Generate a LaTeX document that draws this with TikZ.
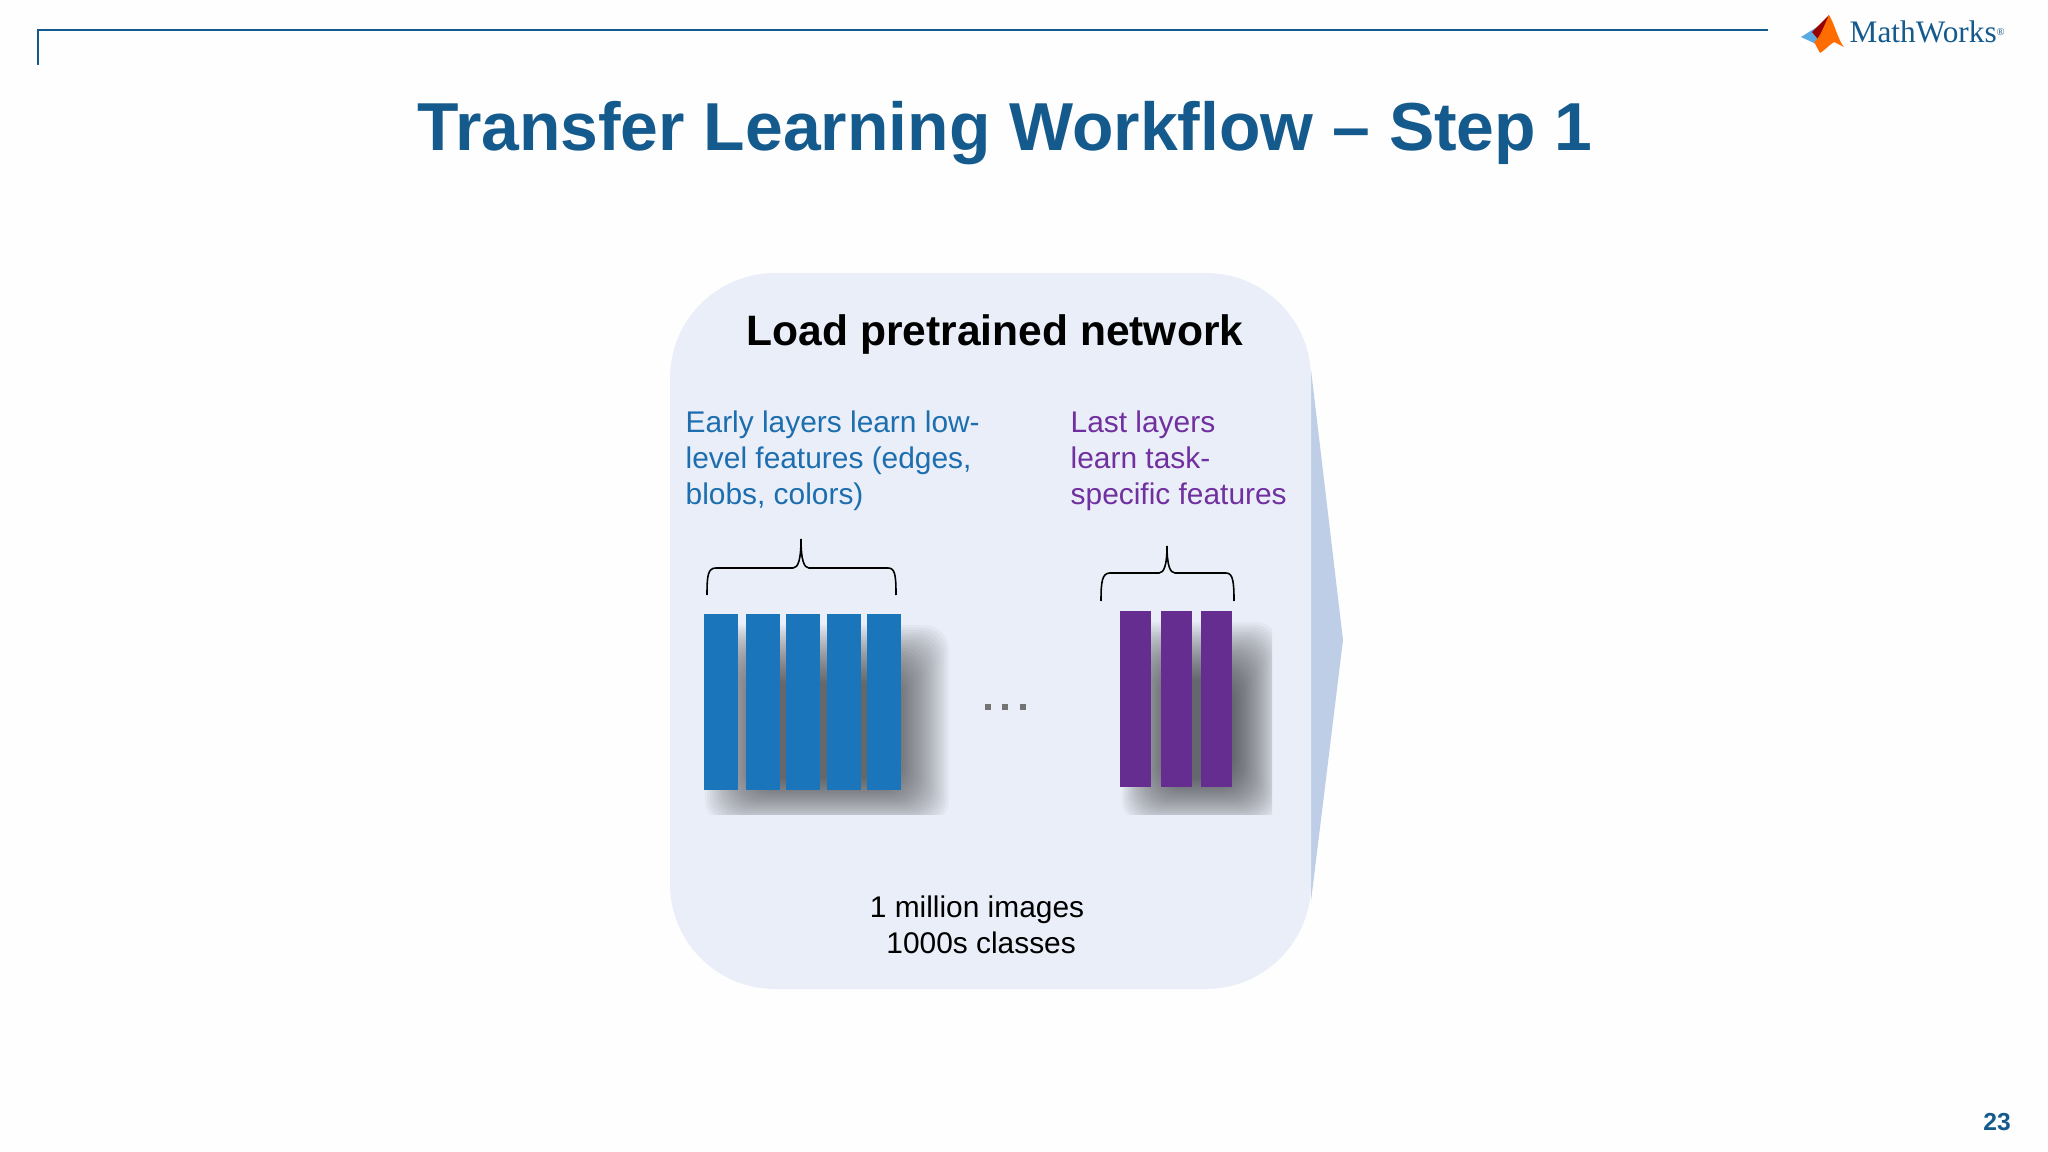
\documentclass[tikz,border=0pt]{standalone}
\usepackage{fontspec}
\setmainfont{Liberation Sans}
\newfontfamily\logofont{Liberation Serif}
\usepackage{xcolor}
\definecolor{mwblue}{RGB}{21,90,140}
\definecolor{panelblue}{RGB}{234,238,248}
\definecolor{arrowblue}{RGB}{190,206,230}
\definecolor{layerblue}{RGB}{27,117,187}
\definecolor{layerpurple}{RGB}{102,45,145}
\definecolor{textblue}{RGB}{28,110,175}
\definecolor{textpurple}{RGB}{112,48,160}
\definecolor{pagewhite}{RGB}{254,254,254}
\definecolor{logosky}{RGB}{90,170,225}
\usetikzlibrary{positioning}

\begin{document}
\begin{tikzpicture}[
    x=0.01cm, y=-0.01cm,
    slidetitle/.style={font=\bfseries\fontsize{19.3}{23}\selectfont, text=mwblue, inner sep=0pt},
    paneltitle/.style={font=\bfseries\fontsize{12.1}{14}\selectfont, text=black, inner sep=0pt},
    note/.style={font=\fontsize{8.5}{10.25}\selectfont, align=left, anchor=north west, inner sep=0pt},
    bluebar/.style={rectangle, fill=layerblue, minimum width=0.34cm, minimum height=1.76cm, inner sep=0pt},
    purplebar/.style={rectangle, fill=layerpurple, minimum width=0.31cm, minimum height=1.75cm, inner sep=0pt},
    dotmark/.style={rectangle, fill=black!55, minimum size=0.055cm, inner sep=0pt},
    brace/.style={draw=black, line width=0.45pt},
    softshadow/.style={black, opacity=0.03, rounded corners=0.25cm}
]
    \useasboundingbox (0,0) rectangle (2048,1152);
    \fill[pagewhite] (0,0) rectangle (2048,1152);

    % header rule
    \draw[mwblue, line width=0.5pt] (38,65) -- (38,30) -- (1768,30);
    \node[slidetitle] (title) at (1005,133) {Transfer Learning Workflow -- Step 1};
    \node[font=\bfseries\fontsize{7}{8}\selectfont, text=mwblue, inner sep=0pt] (pagenum) at (1997,1122) {23};

    % logo
    \fill[logosky] (1801,37) -- (1825,22) -- (1816,44) -- cycle;
    \fill[red!60!black] (1812,32) -- (1829,15) -- (1822,44) -- cycle;
    \fill[orange!85!red] (1829,15) .. controls (1835,25) and (1838,40) .. (1844,47)
        -- (1834,42) .. controls (1828,46) and (1825,50) .. (1820,53)
        -- (1814,42) .. controls (1820,38) and (1824,26) .. (1829,15);
    \node[font=\logofont\fontsize{8.9}{11}\selectfont, text=mwblue, inner sep=0pt, anchor=base west] (logotext) at (1849,43) {MathWorks\raisebox{2pt}{\fontsize{3}{3}\selectfont ®}};

    % panel
    \fill[arrowblue] (1311,370) -- (1343,640) -- (1311,901) -- cycle;
    \fill[panelblue, rounded corners=1.05cm] (670,273) rectangle (1311,989);

    \node[paneltitle] (load) at (995,335) {Load pretrained network};
    \node[note, text=textblue] (early) at (685,410) {Early layers learn low-\\level features (edges,\\blobs, colors)};
    \node[note, text=textpurple] (last) at (1070,410) {Last layers\\learn task-\\specific features};
    \node[note, align=center, anchor=north, text=black] (images) at (977,895) {1 million images\\ \ 1000s classes};

    % shadows
    \begin{scope}
        \clip (698,600) rectangle (960,814);
        \foreach \i in {0,...,23}
            \fill[softshadow] (705+2.5*\i,625+2.5*\i) rectangle (949-2.5*\i,825-2*\i);
    \end{scope}
    \begin{scope}
        \clip (1113,600) rectangle (1272,814);
        \foreach \i in {0,...,23}
            \fill[softshadow] (1122+2*\i,622+2.5*\i) rectangle (1280-2*\i,825-2*\i);
    \end{scope}

    % layers
    \foreach \x [count=\n] in {721,763,803,844,884}
        \node[bluebar] (early\n) at (\x,702) {};
    \foreach \x [count=\n] in {1135,1176,1216}
        \node[purplebar] (last\n) at (\x,699) {};
    \foreach \x [count=\n] in {988,1005,1023}
        \node[dotmark] (dot\n) at (\x,707) {};

    % braces
    \draw[brace] (707,595) .. controls (707,575) and (708,568) .. (716,568) -- (793,568)
        .. controls (798,568) and (801,560) .. (801,539)
        .. controls (801,560) and (804,568) .. (809,568) -- (888,568)
        .. controls (895,568) and (896,575) .. (896,595);
    \draw[brace] (1101,601) .. controls (1101,582) and (1102,573) .. (1110,573) -- (1159,573)
        .. controls (1164,573) and (1167,565) .. (1167,546)
        .. controls (1167,565) and (1170,573) .. (1175,573) -- (1226,573)
        .. controls (1233,573) and (1234,582) .. (1234,601);
\end{tikzpicture}
\end{document}
